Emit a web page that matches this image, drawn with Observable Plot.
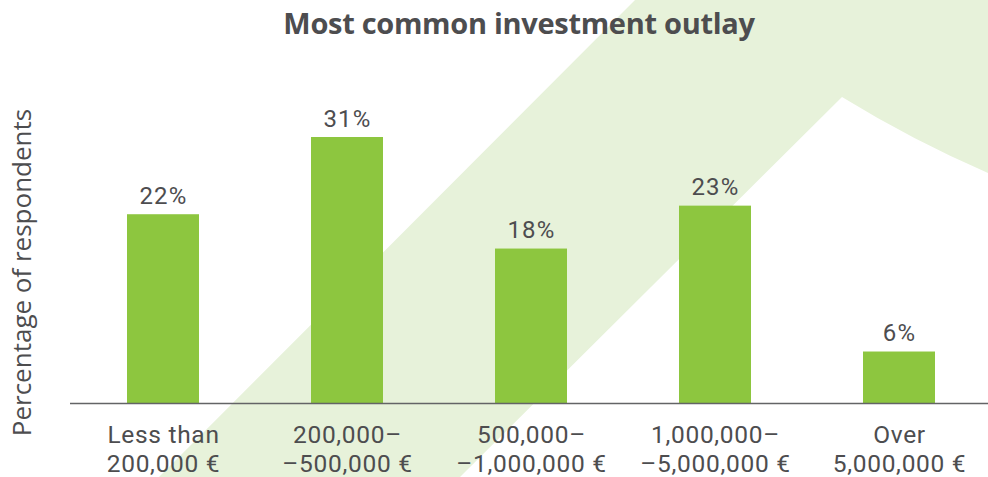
<!DOCTYPE html>
<html>
<head>
<meta charset="utf-8">
<script src="https://cdn.jsdelivr.net/npm/d3@7"></script>
<script src="https://cdn.jsdelivr.net/npm/@observablehq/plot@0.6"></script>
<style>
  html, body { margin: 0; padding: 0; background: #ffffff; overflow: hidden; }
  #wrap { position: relative; width: 988px; height: 477px; }
  #decor, #chart { position: absolute; left: 0; top: 0; }
  #title {
    position: absolute; left: 0; top: 4px; width: 1038px; text-align: center;
    font-family: "Open Sans", sans-serif; font-weight: 700; font-size: 29px;
    color: #4d4d4f; letter-spacing: -0.3px; line-height: 1.3;
  }
  #chart g[aria-label="x-axis tick label"] text { letter-spacing: 0.7px; }
  #chart g.vlabels text { letter-spacing: 1.2px; }
</style>
</head>
<body>
<div id="wrap">
  <svg id="decor" width="988" height="477">
    <path d="M159,477 L635,0 L988,0 L988,173 Q912,140 842,97 L460,477 Z" fill="#e7f2da"/>
  </svg>
  <div id="chart"></div>
  <div id="title">Most common investment outlay</div>
</div>
<script>
const categories = [
  "Less than\n200,000 €",
  "200,000–\n–500,000 €",
  "500,000–\n–1,000,000 €",
  "1,000,000–\n–5,000,000 €",
  "Over\n5,000,000 €"
];
const values = [22, 31, 18, 23, 6];
const valueLabels = ["22%", "31%", "18%", "23%", "6%"];
const yLabel = "Percentage of respondents";

const data = categories.map((c, i) => ({category: c, value: values[i], label: valueLabels[i]}));

const font = "Roboto, 'Open Sans', sans-serif";
const textColor = "#4d4d4f";

const chart = Plot.plot({
  width: 988,
  height: 477,
  marginLeft: 70,
  marginRight: 0,
  marginTop: 141,
  marginBottom: 74,
  style: {background: "transparent", fontFamily: font, color: textColor},
  x: {domain: categories, range: [69, 992], paddingInner: 0.61, paddingOuter: 0.305},
  y: {domain: [0, 31], range: [403, 137]},
  marks: [
    Plot.barY(data, {x: "category", y: "value", fill: "#8dc63f"}),
    Plot.ruleY([0], {stroke: "#636466", strokeWidth: 1.5}),
    Plot.text(data, {x: "category", y: "value", text: "label", lineAnchor: "bottom", dy: -11, fontSize: 24, fill: textColor, className: "vlabels"}),
    Plot.axisX({tickSize: 0, tickPadding: 19, fontSize: 24.5, lineHeight: 1.185, fill: textColor, label: null}),
    Plot.axisY({ticks: [], label: null}),
    Plot.text([yLabel], {frameAnchor: "left", dx: -48, rotate: -90, fontSize: 26, fontFamily: "'Open Sans', sans-serif", fill: textColor, textAnchor: "middle"})
  ]
});
document.getElementById("chart").appendChild(chart);
</script>
</body>
</html>
